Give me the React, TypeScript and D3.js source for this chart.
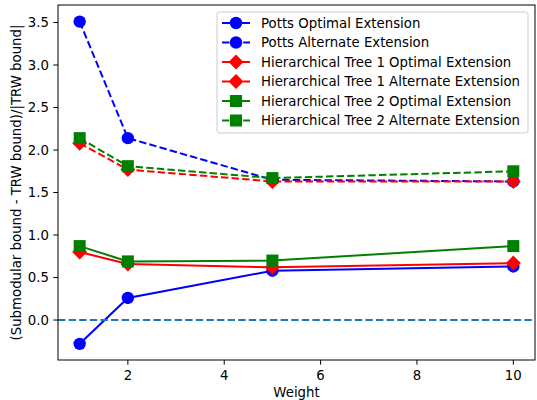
import React from "react";
import * as d3 from "d3";

const weights = [1, 2, 5, 10];
const pottsOptimal = [-0.28, 0.26, 0.58, 0.63];
const pottsAlternate = [3.51, 2.14, 1.65, 1.63];
const tree1Optimal = [0.8, 0.66, 0.62, 0.67];
const tree1Alternate = [2.08, 1.77, 1.63, 1.63];
const tree2Optimal = [0.87, 0.69, 0.7, 0.87];
const tree2Alternate = [2.14, 1.81, 1.67, 1.75];
const xTicks = [2, 4, 6, 8, 10];
const yTicks = [0, 0.5, 1, 1.5, 2, 2.5, 3, 3.5];

const seriesNames = [
  "Potts Optimal Extension",
  "Potts Alternate Extension",
  "Hierarchical Tree 1 Optimal Extension",
  "Hierarchical Tree 1 Alternate Extension",
  "Hierarchical Tree 2 Optimal Extension",
  "Hierarchical Tree 2 Alternate Extension",
];

type Marker = "circle" | "diamond" | "square";
const series: { name: string; values: number[]; color: string; dashed: boolean; marker: Marker }[] = [
  { name: seriesNames[0], values: pottsOptimal, color: "#0000ff", dashed: false, marker: "circle" },
  { name: seriesNames[1], values: pottsAlternate, color: "#0000ff", dashed: true, marker: "circle" },
  { name: seriesNames[2], values: tree1Optimal, color: "#ff0000", dashed: false, marker: "diamond" },
  { name: seriesNames[3], values: tree1Alternate, color: "#ff0000", dashed: true, marker: "diamond" },
  { name: seriesNames[4], values: tree2Optimal, color: "#008000", dashed: false, marker: "square" },
  { name: seriesNames[5], values: tree2Alternate, color: "#008000", dashed: true, marker: "square" },
];

const W = 537;
const H = 400;
const L = 58, R = 535, T = 5, B = 360;
const FONT = "'DejaVu Sans', sans-serif";
const FS = 13.3;
const DASH = "7.4,3.2";

function MarkerShape({ type, x, y, color }: { type: Marker; x: number; y: number; color: string }) {
  if (type === "circle") return <circle cx={x} cy={y} r={6.2} fill={color} />;
  if (type === "square") return <rect x={x - 6} y={y - 6} width={12} height={12} fill={color} />;
  const s = 7.5;
  return <path d={`M${x},${y - s}L${x + s},${y}L${x},${y + s}L${x - s},${y}Z`} fill={color} />;
}

export default function App() {
  const x = d3.scaleLinear().domain([0.55, 10.45]).range([L, R]);
  const y = d3.scaleLinear().domain([-0.47, 3.706]).range([B, T]);
  const line = d3
    .line<number>()
    .x((_, i) => x(weights[i]))
    .y((d) => y(d));

  const legX = 217, legY = 12, legW = 311, legH = 121, rowH = 19.5;

  return (
    <svg width={W} height={H} style={{ position: "absolute", left: 0, top: 0, background: "#fff", fontFamily: FONT }}>
      <rect x={0} y={0} width={W} height={H} fill="#fff" />
      {series.map((s, si) => (
        <g key={si}>
          <path
            d={line(s.values) || ""}
            fill="none"
            stroke={s.color}
            strokeWidth={2}
            strokeDasharray={s.dashed ? DASH : undefined}
          />
          {s.values.map((v, i) => (
            <MarkerShape key={i} type={s.marker} x={x(weights[i])} y={y(v)} color={s.color} />
          ))}
        </g>
      ))}
      <line x1={L} x2={R} y1={y(0)} y2={y(0)} stroke="#1f77b4" strokeWidth={2} strokeDasharray={DASH} />

      {/* axes frame */}
      <rect x={L} y={T} width={R - L} height={B - T} fill="none" stroke="#000" strokeWidth={1} />
      {xTicks.map((t) => (
        <g key={t}>
          <line x1={x(t)} x2={x(t)} y1={B} y2={B + 4.7} stroke="#000" strokeWidth={1} />
          <text x={x(t)} y={B + 19.5} fontSize={FS} textAnchor="middle" fill="#000">{t}</text>
        </g>
      ))}
      {yTicks.map((t) => (
        <g key={t}>
          <line x1={L - 4.7} x2={L} y1={y(t)} y2={y(t)} stroke="#000" strokeWidth={1} />
          <text x={L - 9} y={y(t) + 4.8} fontSize={FS} textAnchor="end" fill="#000">{t.toFixed(1)}</text>
        </g>
      ))}
      <text x={(L + R) / 2} y={397} fontSize={FS} textAnchor="middle" fill="#000">Weight</text>
      <text
        transform={`translate(21,${(T + B) / 2}) rotate(-90)`}
        fontSize={FS}
        textAnchor="middle"
        fill="#000"
      >
        (Submodular bound - TRW bound)/|TRW bound|
      </text>

      {/* legend */}
      <rect x={legX} y={legY} width={legW} height={legH} rx={2.5} fill="#fff" fillOpacity={0.8} stroke="#cccccc" strokeWidth={1} />
      {series.map((s, i) => {
        const cy = legY + 11 + i * rowH;
        return (
          <g key={i}>
            <line
              x1={222}
              x2={250}
              y1={cy}
              y2={cy}
              stroke={s.color}
              strokeWidth={2}
              strokeDasharray={s.dashed ? DASH : undefined}
            />
            <MarkerShape type={s.marker} x={236} y={cy} color={s.color} />
            <text x={261} y={cy + 4.8} fontSize={FS} fill="#000">{s.name}</text>
          </g>
        );
      })}
    </svg>
  );
}
